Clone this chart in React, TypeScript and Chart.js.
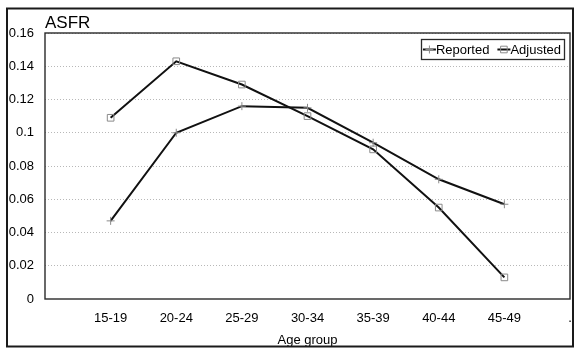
import React, { useEffect, useRef } from "react";
import { Chart, registerables } from "chart.js";

Chart.register(...registerables);

const categories = ["", "15-19", "20-24", "25-29", "30-34", "35-39", "40-44", "45-49", "."];
const reported = [null, 0.047, 0.100, 0.116, 0.115, 0.094, 0.072, 0.057, null];
const adjusted = [null, 0.109, 0.143, 0.129, 0.110, 0.090, 0.055, 0.013, null];
const yTicks = [0, 0.02, 0.04, 0.06, 0.08, 0.1, 0.12, 0.14, 0.16];
const seriesNames = ["Reported", "Adjusted"];
const yTitle = "ASFR";
const xTitle = "Age group";

const FONT = "'Liberation Sans', Arial, Helvetica, sans-serif";

function drawMarker(ctx: CanvasRenderingContext2D, style: string, x: number, y: number) {
  ctx.save();
  ctx.strokeStyle = "#8a8a8a";
  ctx.lineWidth = 1;
  ctx.beginPath();
  if (style === "cross") {
    ctx.moveTo(x - 4, y);
    ctx.lineTo(x + 4, y);
    ctx.moveTo(x, y - 4);
    ctx.lineTo(x, y + 4);
  } else {
    ctx.rect(x - 3.3, y - 3.3, 6.6, 6.6);
  }
  ctx.stroke();
  ctx.restore();
}

const framePlugin = {
  id: "frame",
  beforeDatasetsDraw(chart: any) {
    const { ctx, chartArea } = chart;
    ctx.save();
    ctx.strokeStyle = "#2a2a2a";
    ctx.lineWidth = 1.4;
    ctx.strokeRect(chartArea.left, chartArea.top, chartArea.right - chartArea.left, chartArea.bottom - chartArea.top);
    ctx.restore();
  },
  afterDraw(chart: any) {
    const { ctx, chartArea } = chart;
    ctx.save();
    // outer border
    ctx.strokeStyle = "#1a1a1a";
    ctx.lineWidth = 2;
    ctx.strokeRect(7, 8.5, 566, 338);
    // y title
    ctx.fillStyle = "#000";
    ctx.font = `17px ${FONT}`;
    ctx.textBaseline = "alphabetic";
    ctx.textAlign = "left";
    ctx.fillText(yTitle, chartArea.left, 28);
    // legend
    ctx.font = `13px ${FONT}`;
    const styles = ["cross", "rect"];
    const markerW = 13;
    const gap = 8;
    const w0 = ctx.measureText(seriesNames[0]).width;
    const w1 = ctx.measureText(seriesNames[1]).width;
    const boxW = 2 + markerW + w0 + gap + markerW + w1 + 3;
    const boxH = 20;
    const right = chartArea.right - 6;
    const left = right - boxW;
    const top = chartArea.top + 6;
    ctx.fillStyle = "#fff";
    ctx.fillRect(left, top, boxW, boxH);
    ctx.strokeStyle = "#2a2a2a";
    ctx.lineWidth = 1.3;
    ctx.strokeRect(Math.round(left) + 0.5, Math.round(top) + 0.5, Math.round(boxW), boxH);
    const cy = top + boxH / 2 + 0.5;
    let x = left + 2;
    [w0, w1].forEach((w, i) => {
      ctx.strokeStyle = "#111";
      ctx.lineWidth = 2;
      ctx.beginPath();
      ctx.moveTo(x, cy);
      ctx.lineTo(x + markerW, cy);
      ctx.stroke();
      drawMarker(ctx, styles[i], x + markerW / 2, cy);
      ctx.fillStyle = "#000";
      ctx.textBaseline = "middle";
      ctx.fillText(seriesNames[i], x + markerW, cy + 1);
      x += markerW + w + gap;
    });
    ctx.restore();
  },
};

export default function App() {
  const ref = useRef<HTMLCanvasElement>(null);
  useEffect(() => {
    document.body.style.margin = "0";
    const chart = new Chart(ref.current!, {
      type: "line",
      data: {
        labels: categories,
        datasets: [
          {
            label: seriesNames[0],
            data: reported,
            borderColor: "#111",
            borderWidth: 2,
            pointStyle: "cross",
            pointRadius: 4,
            pointBorderColor: "#8a8a8a",
            pointBorderWidth: 1,
            pointBackgroundColor: "transparent",
            tension: 0,
          },
          {
            label: seriesNames[1],
            data: adjusted,
            borderColor: "#111",
            borderWidth: 2,
            pointStyle: "rect",
            pointRadius: 4.7,
            pointBorderColor: "#8a8a8a",
            pointBorderWidth: 1,
            pointBackgroundColor: "transparent",
            tension: 0,
          },
        ],
      },
      options: {
        animation: false,
        responsive: false,
        maintainAspectRatio: false,
        layout: { padding: { left: 0, top: 33, right: 10, bottom: 0 } },
        plugins: { legend: { display: false }, tooltip: { enabled: false }, title: { display: false } },
        scales: {
          x: {
            type: "category",
            offset: false,
            grid: { display: false, drawTicks: false },
            border: { display: false },
            ticks: {
              color: "#000",
              font: { family: FONT, size: 13 },
              padding: 12,
              autoSkip: false,
              maxRotation: 0,
              callback: (_v: any, i: number) => categories[i],
            },
            title: {
              display: true,
              text: xTitle,
              color: "#000",
              font: { family: FONT, size: 13 },
              padding: { top: 0, bottom: 5 },
            },
            afterFit: (s: any) => {
              s.height = 54;
              s.paddingLeft = 0;
              s.paddingRight = 0;
            },
          },
          y: {
            min: 0,
            max: 0.16,
            afterBuildTicks: (s: any) => {
              s.ticks = yTicks.map((v) => ({ value: v }));
            },
            grid: {
              drawTicks: false,
              color: (c: any) => (c.tick && c.tick.value === 0 ? "transparent" : "#b8b8b8"),
              lineWidth: 1,
            },
            border: { display: false, dash: [1, 2] },
            ticks: {
              color: "#000",
              font: { family: FONT, size: 13 },
              padding: 11,
              callback: (v: any) => String(Number(Number(v).toFixed(2))),
            },
            afterFit: (s: any) => {
              s.width = 45;
              s.paddingTop = 0;
              s.paddingBottom = 0;
            },
          },
        },
      } as any,
      plugins: [framePlugin],
    });
    return () => chart.destroy();
  }, []);
  return <canvas ref={ref} width={580} height={353} style={{ display: "block" }} />;
}
